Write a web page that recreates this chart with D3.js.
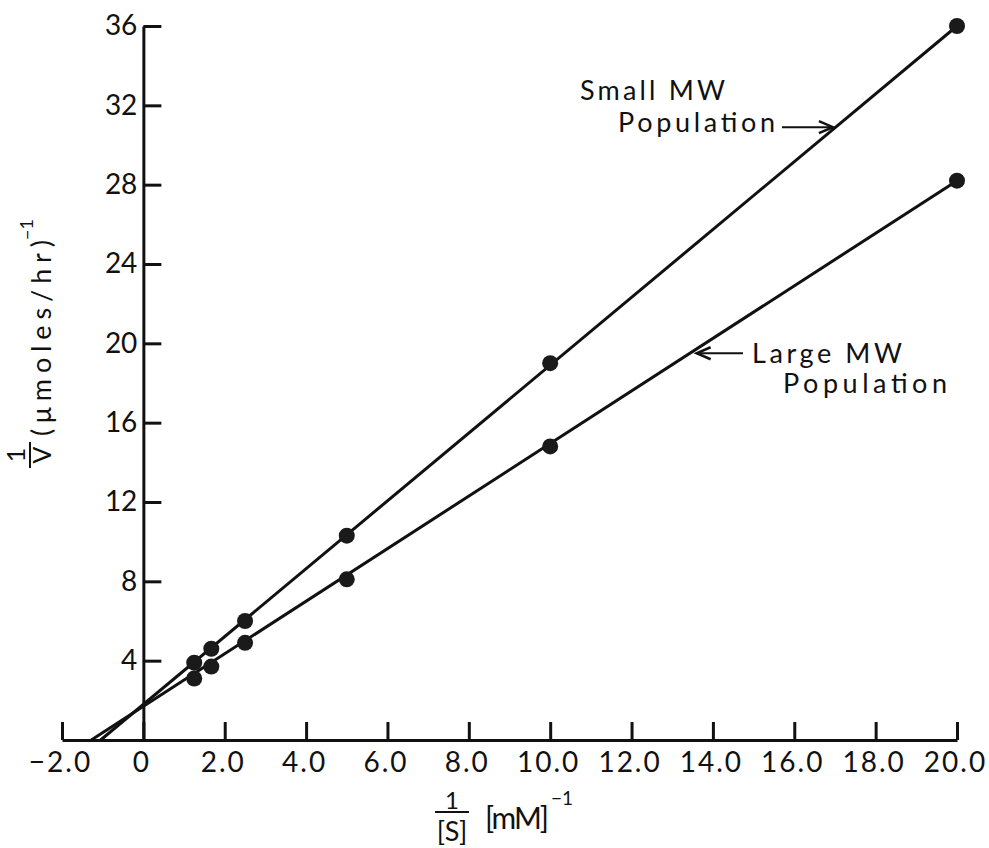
<!DOCTYPE html>
<html>
<head>
<meta charset="utf-8">
<script src="https://cdn.jsdelivr.net/npm/d3@7"></script>
<style>
  body { margin: 0; background: #fff; }
  svg text { font-family: "Lato", "Liberation Sans", sans-serif; fill: #111; }
</style>
</head>
<body>
<div id="chart"></div>
<script>
// values (1/[S] in mM^-1, 1/V in (umoles/hr)^-1)
const invS = [1.25, 1.67, 2.5, 5.0, 10.0, 20.0]
const smallMW = [3.9, 4.6, 6.0, 10.3, 19.0, 36.0]
const largeMW = [3.1, 3.7, 4.9, 8.1, 14.8, 28.2]

// fitted lines, from the x intercept to the last point
const smallFit = [[-1.05, 0], [20, 36.0]]
const largeFit = [[-1.28, 0], [20, 28.2]]

const xTicks = [-2, 0, 2, 4, 6, 8, 10, 12, 14, 16, 18, 20]
const xTickLabels = ["\u22122.0", "0", "2.0", "4.0", "6.0", "8.0", "10.0", "12.0", "14.0", "16.0", "18.0", "20.0"]
const yTicks = [4, 8, 12, 16, 20, 24, 28, 32, 36]
const yTickLabels = ["4", "8", "12", "16", "20", "24", "28", "32", "36"]

const width = 989
const height = 848

const x = d3.scaleLinear().domain([-2, 20]).range([62, 957])
const y = d3.scaleLinear().domain([0, 36]).range([740, 26])

const svg = d3.select("#chart").append("svg")
  .attr("width", width)
  .attr("height", height)

svg.append("rect").attr("width", width).attr("height", height).attr("fill", "#fff")

// axes: ticks point inwards, labels outside
const xAxis = d3.axisBottom(x)
  .tickValues(xTicks)
  .tickFormat((d, i) => xTickLabels[i])
  .tickSizeInner(-18)
  .tickSizeOuter(0)
  .tickPadding(12)

const yAxis = d3.axisLeft(y)
  .tickValues(yTicks)
  .tickFormat((d, i) => yTickLabels[i])
  .tickSizeInner(-18)
  .tickSizeOuter(0)
  .tickPadding(6)

const gx = svg.append("g").attr("transform", `translate(0,${y(0)})`).call(xAxis)
const gy = svg.append("g").attr("transform", `translate(${x(0)},0)`).call(yAxis)

for (const g of [gx, gy]) {
  g.select(".domain").attr("stroke", "#111").attr("stroke-width", 3)
  g.selectAll(".tick line").attr("stroke", "#111").attr("stroke-width", 3)
  g.selectAll(".tick text")
    .attr("fill", "#111")
    .style("font-size", "28px")
    .style("font-family", "Lato, 'Liberation Sans', sans-serif")
}
gx.selectAll(".tick text").style("letter-spacing", "2px").attr("dx", "-2")

// lines
const line = d3.line().x(d => x(d[0])).y(d => y(d[1]))
svg.append("path").datum(smallFit).attr("d", line)
  .attr("fill", "none").attr("stroke", "#111").attr("stroke-width", 3)
svg.append("path").datum(largeFit).attr("d", line)
  .attr("fill", "none").attr("stroke", "#111").attr("stroke-width", 3)

// points
const pts = svg.append("g")
pts.selectAll("circle.s").data(invS).enter().append("circle")
  .attr("class", "s")
  .attr("cx", d => x(d))
  .attr("cy", (d, i) => y(smallMW[i]))
  .attr("r", 8)
  .attr("fill", "#1a1a1a")
pts.selectAll("circle.l").data(invS).enter().append("circle")
  .attr("class", "l")
  .attr("cx", d => x(d))
  .attr("cy", (d, i) => y(largeMW[i]))
  .attr("r", 8)
  .attr("fill", "#1a1a1a")

// annotations with arrows
const drawArrow = (x1, x2, yy) => {
  const dir = x2 > x1 ? 1 : -1
  svg.append("line").attr("x1", x1).attr("x2", x2).attr("y1", yy).attr("y2", yy)
    .attr("stroke", "#111").attr("stroke-width", 2)
  svg.append("path")
    .attr("d", `M${x2 - dir * 14},${yy - 6} L${x2},${yy} L${x2 - dir * 14},${yy + 6}`)
    .attr("fill", "none").attr("stroke", "#111").attr("stroke-width", 2.5)
}

const label = (txt, x0, base, len) => svg.append("text")
  .attr("x", x0).attr("y", base)
  .attr("textLength", len).attr("lengthAdjust", "spacing")
  .style("font-size", "27px")
  .text(txt)

label("Small MW", 580, 100, 145)
label("Population", 618, 132, 157)
drawArrow(782, x(16.95), y(30.9))
label("Large MW", 752, 363, 150)
label("Population", 783, 393, 164)
drawArrow(743, x(13.6), y(19.5))

// y axis title, rotated
const yt = svg.append("g").attr("transform", "translate(51,470) rotate(-90)")
yt.append("text").attr("x", 15).attr("y", -26).attr("text-anchor", "middle")
  .style("font-size", "25px").text("1")
yt.append("line").attr("x1", 2).attr("x2", 28).attr("y1", -21).attr("y2", -21)
  .attr("stroke", "#111").attr("stroke-width", 2)
yt.append("text").attr("x", 15).attr("y", 0).attr("text-anchor", "middle")
  .style("font-size", "25px").text("V")
yt.append("text").attr("x", 34).attr("y", 0)
  .attr("textLength", 196).attr("lengthAdjust", "spacing")
  .style("font-size", "27px").text("(\u03bcmoles/hr)")
yt.append("text").attr("x", 230).attr("y", -18)
  .style("font-size", "18px").text("\u22121")

// x axis title
const xt = svg.append("g")
xt.append("text").attr("x", 452).attr("y", 809).attr("text-anchor", "middle")
  .style("font-size", "24px").text("1")
xt.append("line").attr("x1", 435).attr("x2", 469).attr("y1", 812).attr("y2", 812)
  .attr("stroke", "#111").attr("stroke-width", 2)
xt.append("text").attr("x", 452).attr("y", 841).attr("text-anchor", "middle")
  .style("font-size", "27px").text("[S]")
xt.append("text").attr("x", 485).attr("y", 829)
  .attr("textLength", 64).attr("lengthAdjust", "spacing")
  .style("font-size", "30px").text("[mM]")
xt.append("text").attr("x", 551).attr("y", 805)
  .style("font-size", "19px").text("\u22121")
</script>
</body>
</html>
